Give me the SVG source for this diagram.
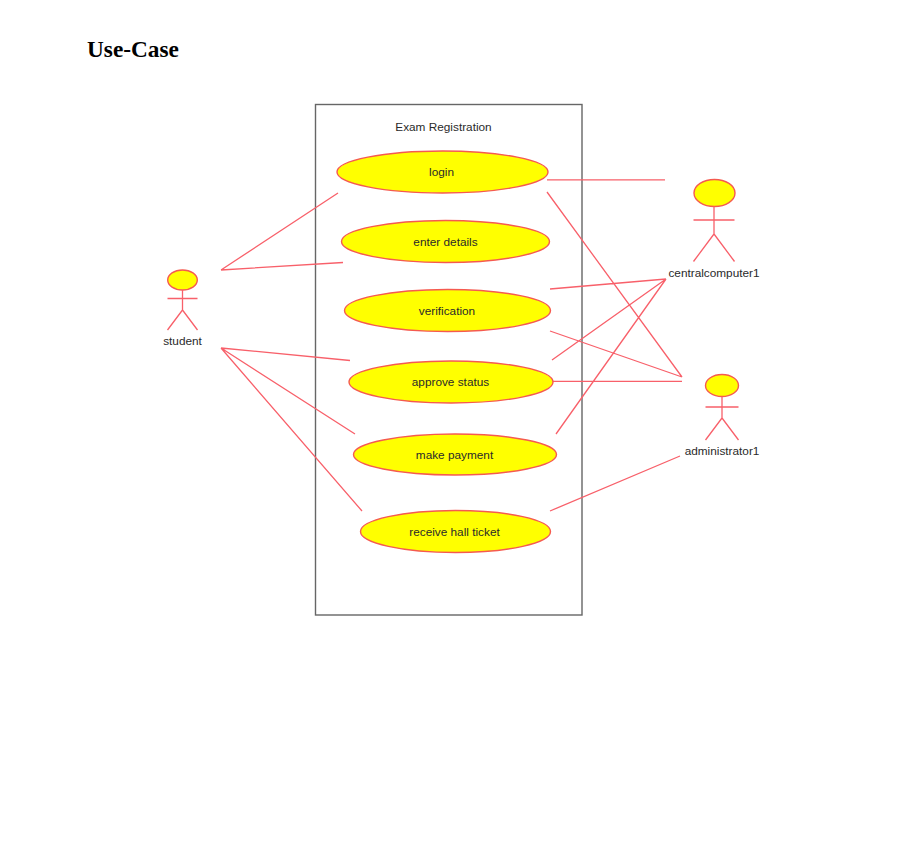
<svg xmlns="http://www.w3.org/2000/svg" width="924" height="860" viewBox="0 0 924 860">
<style>
text{font-family:"Liberation Sans",Arial,sans-serif;font-size:11.8px;fill:#2a2a2a;text-anchor:middle}
.title{font-family:"Liberation Serif","Times New Roman",serif;font-size:23.3px;font-weight:bold;fill:#000;text-anchor:start}
.uc,.head{fill:#ffff00;stroke:#f55a50;stroke-width:1.4}
.l{stroke:#f8606a;stroke-width:1.3;fill:none}
</style>
<rect width="924" height="860" fill="#fff"/>
<text class="title" x="87" y="56.500">Use-Case</text>
<g id="system"><rect x="315.500" y="104.500" width="266.500" height="510.500" fill="#fff" stroke="#666" stroke-width="1.400"/><text x="443.500" y="130.500">Exam Registration</text></g>
<g id="connectors">
<path class="l" d="M221 270L338 193M221 270L343 262.500M221 348L350 360.500M221 348L355 434M221 348L362 511"/>
<path class="l" d="M547 179.800L665 179.800M547 192L682 377M550 289L666 279M552 360L666 279M556 434L666 279M550 331L682 377M553 381.300L682 381.300M550 511L680 456"/>
</g>
<g id="uc-login"><ellipse class="uc" cx="442.500" cy="172" rx="105.500" ry="21"/><text x="441.500" y="176">login</text></g>
<g id="uc-enter-details"><ellipse class="uc" cx="445.500" cy="241.500" rx="104" ry="21"/><text x="445.500" y="246">enter details</text></g>
<g id="uc-verification"><ellipse class="uc" cx="447.500" cy="310.500" rx="103" ry="21"/><text x="447" y="315">verification</text></g>
<g id="uc-approve-status"><ellipse class="uc" cx="451" cy="382" rx="102" ry="21"/><text x="450.500" y="386">approve status</text></g>
<g id="uc-make-payment"><ellipse class="uc" cx="455" cy="454.500" rx="101.500" ry="20.500"/><text x="454.500" y="459">make payment</text></g>
<g id="uc-receive-hall-ticket"><ellipse class="uc" cx="455.500" cy="531.500" rx="95" ry="21"/><text x="454.500" y="536">receive hall ticket</text></g>
<g id="actor-student"><ellipse class="head" cx="182.500" cy="280" rx="14.800" ry="10"/><path class="l" d="M182.500 290V310M167.500 298.500H197.500M182.500 310L167.500 330M182.500 310L197.500 330"/><text x="182.500" y="345">student</text></g>
<g id="actor-centralcomputer1"><ellipse class="head" cx="714.500" cy="193" rx="20.500" ry="13.500"/><path class="l" d="M714 206.500V234M693.500 220H734.500M714 234L693.500 261.500M714 234L734.500 261.500"/><text x="714" y="277">centralcomputer1</text></g>
<g id="actor-administrator1"><ellipse class="head" cx="722" cy="385.500" rx="16.500" ry="11"/><path class="l" d="M722 396.500V418M705.500 407H738.500M722 418L705.500 440M722 418L738.500 440"/><text x="722" y="455">administrator1</text></g>
</svg>
